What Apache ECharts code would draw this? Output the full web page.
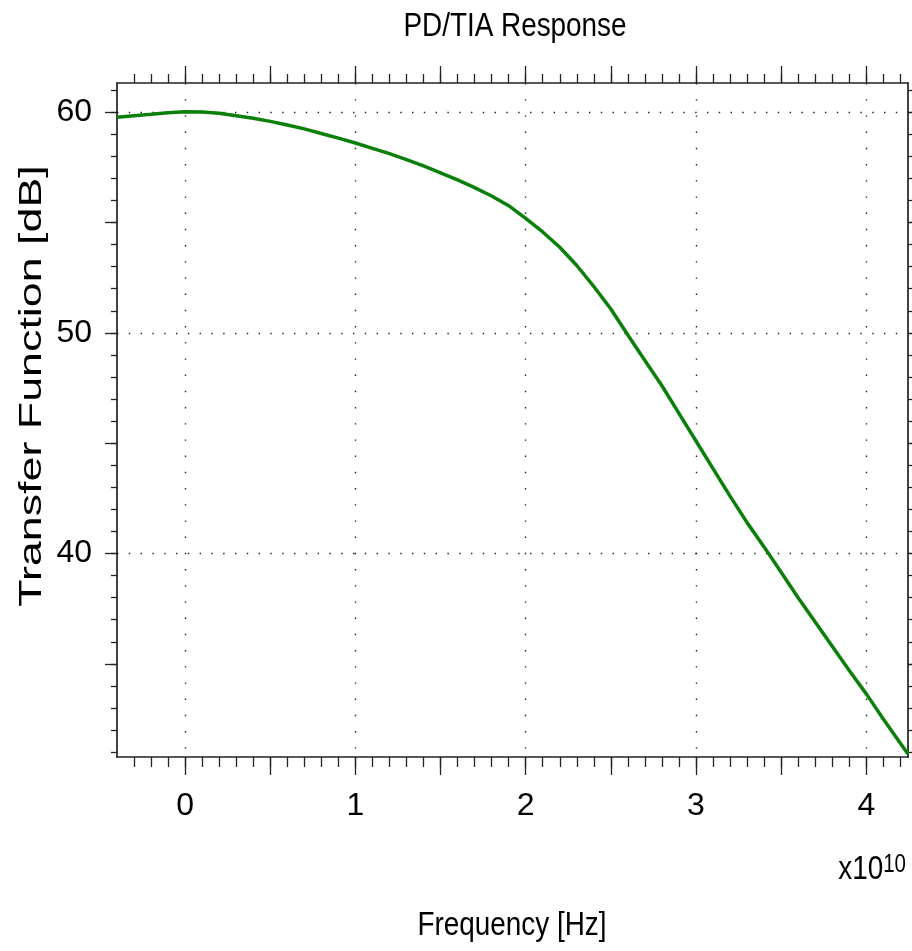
<!DOCTYPE html>
<html>
<head>
<meta charset="utf-8">
<script src="https://cdn.jsdelivr.net/npm/echarts@6/dist/echarts.min.js"></script>
<style>
  html, body { margin: 0; padding: 0; background: #fff; }
  #chart { width: 912px; height: 951px; }
</style>
</head>
<body>
<div id="chart"></div>
<script>
// Frequency samples, in units of 1e10 Hz
const freq = [
  -0.4, -0.3, -0.2, -0.1, 0.0, 0.1, 0.2, 0.3, 0.4, 0.5,
  0.6, 0.7, 0.8, 0.9, 1.0, 1.1, 1.2, 1.3, 1.4, 1.5,
  1.6, 1.7, 1.8, 1.9, 2.0, 2.1, 2.2, 2.3, 2.4, 2.5,
  2.6, 2.7, 2.8, 2.9, 3.0, 3.1, 3.2, 3.3, 3.4, 3.5,
  3.6, 3.7, 3.8, 3.9, 4.0, 4.1, 4.2, 4.245
];
// PD/TIA transfer function magnitude, dB
const gainDb = [
  59.77, 59.84, 59.90, 59.97, 60.02, 60.01, 59.95, 59.84, 59.72, 59.58,
  59.42, 59.24, 59.03, 58.82, 58.60, 58.36, 58.12, 57.85, 57.56, 57.25,
  56.93, 56.58, 56.20, 55.76, 55.19, 54.57, 53.88, 53.05, 52.10, 51.08,
  49.90, 48.75, 47.60, 46.35, 45.10, 43.85, 42.60, 41.40, 40.30, 39.15,
  38.00, 36.90, 35.80, 34.70, 33.64, 32.50, 31.40, 30.92
];
const xTickLabels = ['0', '1', '2', '3', '4'];
const yTickLabels = ['40', '50', '60'];
const titleText = 'PD/TIA Response';
const xName = 'Frequency [Hz]';
const yName = 'Transfer Function [dB]';
const xScaleBase = 'x10';
const xScaleExp = '10';

// ---- layout ----
const W = 912, H = 951;
const box = { l: 117, r: 908, t: 83, b: 757 };
const xRange = [-0.4, 4.245];
const yRange = [30.78, 61.32];
const xPx = v => box.l + (v - xRange[0]) / (xRange[1] - xRange[0]) * (box.r - box.l);
const yPx = v => box.b - (v - yRange[0]) / (yRange[1] - yRange[0]) * (box.b - box.t);
// grids that share the plot's pixel scale but start/end on whole tick steps
const gridX = (a, b) => ({ left: xPx(a), right: W - xPx(b), top: box.t, bottom: H - box.b, outerBoundsMode: 'none' });
const gridY = (a, b) => ({ left: box.l, right: W - box.r, top: yPx(b), bottom: H - yPx(a), outerBoundsMode: 'none' });

const ink = '#222';
const font = '"Liberation Sans", Arial, Helvetica, sans-serif';
const squeeze = 0.82; // condensed look for the horizontal captions

const near = (v, list) => {
  const r = Math.round(v);
  return Math.abs(v - r) < 1e-6 && list.includes(String(r)) ? String(r) : '';
};

const hidden = (gi) => ({ type: 'value', gridIndex: gi, show: false, min: 0, max: 1 });

function tickAxis(gi, pos, min, max, step, len, extra) {
  return Object.assign({
    type: 'value', gridIndex: gi, position: pos, min, max, interval: step,
    axisLine: { show: false, onZero: false },
    axisTick: { show: true, inside: false, length: len, lineStyle: { color: ink, width: 1.3 } },
    axisLabel: { show: false },
    splitLine: { show: false }
  }, extra || {});
}

const grids = [
  { left: box.l, right: W - box.r, top: box.t, bottom: H - box.b, outerBoundsMode: 'none' }, // 0 main plot
  gridX(0, 4),        // 1 x half-unit ticks, labels, grid lines
  gridX(-0.3, 4.2),   // 2 x tenth ticks
  gridY(35, 60),      // 3 y five-dB ticks
  gridY(31, 61),      // 4 y one-dB ticks
  gridY(40, 60)       // 5 y grid lines
];

const frameLine = { show: true, onZero: false, lineStyle: { color: ink, width: 1.7 } };
const labelStyle = { fontFamily: font, fontSize: 32, color: '#000' };

const xAxes = [
  { type: 'value', gridIndex: 0, position: 'bottom', min: xRange[0], max: xRange[1],
    axisLine: frameLine, axisTick: { show: false }, axisLabel: { show: false }, splitLine: { show: false } },
  { type: 'value', gridIndex: 0, position: 'top', min: xRange[0], max: xRange[1],
    axisLine: frameLine, axisTick: { show: false }, axisLabel: { show: false }, splitLine: { show: false } },
  tickAxis(1, 'bottom', 0, 4, 0.5, 18, {
    axisLabel: Object.assign({ show: true, margin: 33, formatter: v => near(v, xTickLabels) }, labelStyle) }),
  tickAxis(1, 'top', 0, 4, 0.5, 17),
  { type: 'value', gridIndex: 1, position: 'bottom', min: 0, max: 4, interval: 1,
    axisLine: { show: false, onZero: false }, axisTick: { show: false }, axisLabel: { show: false },
    splitLine: { show: true, lineStyle: { color: ink, width: 1.4, type: [1.4, 14.8] } } },
  tickAxis(2, 'bottom', -0.3, 4.2, 0.1, 10),
  tickAxis(2, 'top', -0.3, 4.2, 0.1, 9),
  hidden(3), hidden(4), hidden(5)
];

const yAxes = [
  { type: 'value', gridIndex: 0, position: 'left', min: yRange[0], max: yRange[1],
    axisLine: frameLine, axisTick: { show: false }, axisLabel: { show: false }, splitLine: { show: false } },
  { type: 'value', gridIndex: 0, position: 'right', min: yRange[0], max: yRange[1],
    axisLine: frameLine, axisTick: { show: false }, axisLabel: { show: false }, splitLine: { show: false } },
  hidden(1), hidden(2),
  tickAxis(3, 'left', 35, 60, 5, 12, {
    axisLabel: Object.assign({ show: true, margin: 25, formatter: v => near(v, yTickLabels) }, labelStyle) }),
  tickAxis(3, 'right', 35, 60, 5, 12),
  tickAxis(4, 'left', 31, 61, 1, 6),
  tickAxis(4, 'right', 31, 61, 1, 6),
  { type: 'value', gridIndex: 5, position: 'left', min: 40, max: 60, interval: 10,
    axisLine: { show: false, onZero: false }, axisTick: { show: false }, axisLabel: { show: false },
    splitLine: { show: true, lineStyle: { color: ink, width: 1.4, type: [1.4, 10.4] } } }
];

const chart = echarts.init(document.getElementById('chart'), null, { renderer: 'canvas' });
chart.setOption({
  animation: false,
  backgroundColor: '#fff',
  grid: grids,
  xAxis: xAxes,
  yAxis: yAxes,
  series: [{
    type: 'line',
    xAxisIndex: 0, yAxisIndex: 0,
    data: freq.map((f, i) => [f, gainDb[i]]),
    showSymbol: false,
    clip: false,
    z: 5,
    lineStyle: { color: '#0a800a', width: 3.5 }
  }],
  graphic: [
    // chart title
    { type: 'text', x: 515, y: 27, scaleX: squeeze,
      style: { text: titleText, fontFamily: font, fontSize: 34, fill: '#000', align: 'center', verticalAlign: 'middle' } },
    // x axis caption
    { type: 'text', x: 512, y: 926, scaleX: squeeze,
      style: { text: xName, fontFamily: font, fontSize: 34, fill: '#000', align: 'center', verticalAlign: 'middle' } },
    // y axis caption, rotated
    { type: 'text', x: 32, y: 386, rotation: Math.PI / 2, scaleX: 1.4,
      style: { text: yName, fontFamily: font, fontSize: 32, fill: '#000', align: 'center', verticalAlign: 'middle' } },
    // frequency multiplier
    { type: 'text', x: 906, y: 887, scaleX: squeeze,
      style: { text: '{b|' + xScaleBase + '}{s|' + xScaleExp + '}', align: 'right', verticalAlign: 'bottom',
        rich: {
          b: { fontFamily: font, fontSize: 34, fill: '#000', verticalAlign: 'bottom' },
          s: { fontFamily: font, fontSize: 25, fill: '#000', verticalAlign: 'top' }
        } } }
  ]
});
</script>
</body>
</html>
